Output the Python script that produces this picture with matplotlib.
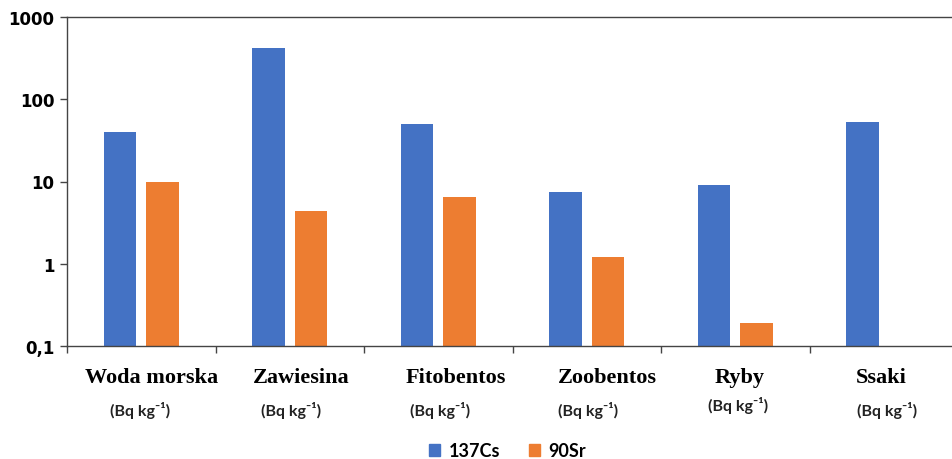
import matplotlib
matplotlib.use("Agg")
import matplotlib.pyplot as plt
import numpy as np
from matplotlib.patches import Patch
from matplotlib.ticker import FixedLocator, FixedFormatter, NullLocator

kategorie = ["Woda morska", "Zawiesina", "Fitobentos", "Zoobentos", "Ryby", "Ssaki"]
jednostka = "(Bq kg⁻¹)"
cs137 = [40, 420, 50, 7.4, 9.1, 53]
sr90 = [9.8, 4.4, 6.5, 1.2, 0.19, np.nan]
serie = ["137Cs", "90Sr"]
y_ticki = [0.1, 1, 10, 100, 1000]
y_etykiety = ["0,1", "1", "10", "100", "1000"]

niebieski = "#4472C4"
pomaranczowy = "#ED7D31"
dol = 0.1

fig = plt.figure(figsize=(9.52, 4.6), dpi=100)
ax = fig.add_axes([67 / 952, 1 - 347 / 460, 891 / 952, 329 / 460])

x = np.arange(len(kategorie))
szer = 0.216
ax.bar(x - 0.143, np.array(cs137) - dol, szer, color=niebieski, bottom=dol)
ax.bar(x + 0.143, np.array(sr90) - dol, szer, color=pomaranczowy, bottom=dol)

ax.set_yscale("log")
ax.set_ylim(0.1, 1000)
ax.set_xlim(-0.5, len(kategorie) - 0.5)
ax.yaxis.set_major_locator(FixedLocator(y_ticki))
ax.yaxis.set_major_formatter(FixedFormatter(y_etykiety))
ax.yaxis.set_minor_locator(NullLocator())
ax.set_xticks(np.arange(len(kategorie) + 1) - 0.5)
ax.set_xticklabels([])
ax.tick_params(axis="y", length=5, width=1, color="#444444", pad=4)
ax.tick_params(axis="x", length=5, width=1, color="#444444")
for lbl in ax.get_yticklabels():
    lbl.set_fontfamily(["DejaVu Sans"])
    lbl.set_fontweight("bold")
    lbl.set_fontsize(12)

for s in ["left", "bottom", "top"]:
    ax.spines[s].set_color("#444444")
    ax.spines[s].set_linewidth(1)
ax.spines["right"].set_visible(False)

# podpisy kategorii: nazwa szeryfowa + jednostka pod spodem
przes_nazwa = [0.07, 0.08, 0.12, 0.14, 0.03, -0.02]
przes_jedn = [-0.01, 0.01, 0.01, 0.01, 0.02, 0.02]
wys_jedn = [-0.192, -0.192, -0.192, -0.192, -0.177, -0.192]
tr = ax.get_xaxis_transform()
for i, nazwa in enumerate(kategorie):
    ax.text(i + przes_nazwa[i], -0.095, nazwa, transform=tr, ha="center", va="center",
            fontfamily="Liberation Serif", fontweight="bold", fontsize=16)
    ax.text(i + przes_jedn[i], wys_jedn[i], jednostka, transform=tr, ha="center", va="center",
            fontfamily=["Lato", "DejaVu Sans"], fontweight="bold", fontsize=11.5, color="#222222")

uchwyty = [Patch(color=niebieski), Patch(color=pomaranczowy)]
fig.legend(uchwyty, serie, loc="center", bbox_to_anchor=(0.533, 1 - 452 / 460), ncol=2,
           frameon=False, handlelength=0.6, handleheight=0.6, handletextpad=0.45,
           columnspacing=1.6, prop={"family": "Lato", "weight": "bold", "size": 13})

fig.savefig("out.png", dpi=100)
